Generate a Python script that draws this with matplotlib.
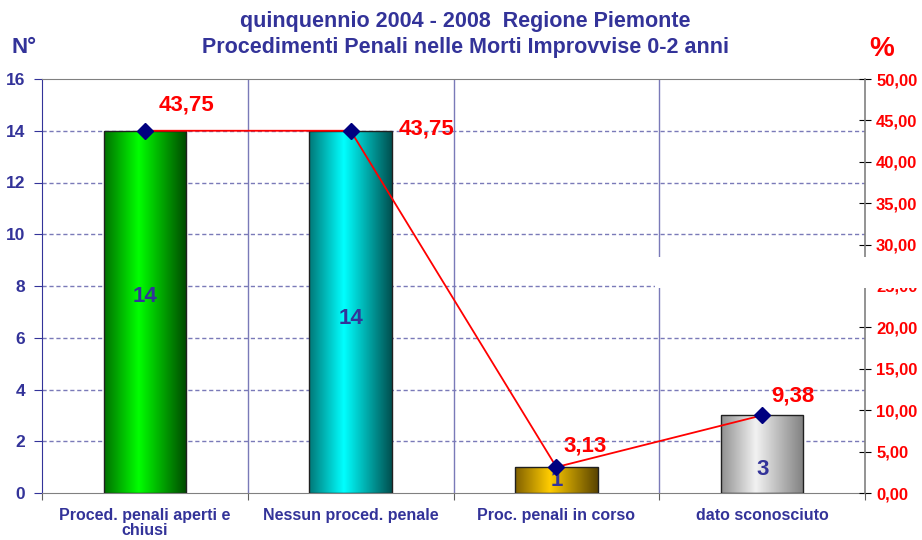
import matplotlib.pyplot as plt
import matplotlib.patches as mpatches
from matplotlib.colors import LinearSegmentedColormap
from matplotlib.ticker import FuncFormatter
import numpy as np

categories = ["Proced. penali aperti e\nchiusi", "Nessun proced. penale",
              "Proc. penali in corso", "dato sconosciuto"]
counts = [14, 14, 1, 3]
percents = [43.75, 43.75, 3.13, 9.38]

title = "quinquennio 2004 - 2008  Regione Piemonte\nProcedimenti Penali nelle Morti Improvvise 0-2 anni"

# gradient colours per bar: edge, highlight, far edge
bar_colors = [
    ("#007000", "#00ff00", "#004800"),
    ("#007878", "#00ffff", "#005050"),
    ("#806000", "#ffcc00", "#5a4400"),
    ("#909090", "#f2f2f2", "#808080"),
]

navy = "#333399"
red = "#ff0000"
grid_c = "#7a7ab8"

plt.rcParams["font.family"] = ["Liberation Sans", "DejaVu Sans"]
plt.rcParams["font.weight"] = "bold"

fig = plt.figure(figsize=(9.22, 5.4), dpi=100)
ax = fig.add_axes([42 / 922, 1 - 493 / 540, 823 / 922, 414 / 540])
x = np.arange(len(categories))

bars = ax.bar(x, counts, width=0.4, color="none", edgecolor="#202020", linewidth=1.0, zorder=3)

# gradient fill, clipped to each bar
for b, (c1, c2, c3) in zip(bars, bar_colors):
    cmap = LinearSegmentedColormap.from_list("g", [(0, c1), (0.42, c2), (1, c3)])
    grad = np.linspace(0, 1, 256).reshape(1, -1)
    im = ax.imshow(grad, cmap=cmap, aspect="auto", zorder=2,
                   extent=(b.get_x(), b.get_x() + b.get_width(), 0, b.get_height()))
    im.set_clip_path(b)

ax.set_xlim(-0.5, 3.5)
ax.set_ylim(0, 16)
ax.set_yticks(np.arange(0, 17, 2))
for yv in range(2, 16, 2):
    ax.axhline(yv, color=grid_c, linestyle=(0, (3, 2)), linewidth=1.0, zorder=1)
for xv in [0.5, 1.5, 2.5]:
    ax.axvline(xv, color=grid_c, linewidth=1.0, zorder=1)

ax.set_xticks([-0.5, 0.5, 1.5, 2.5, 3.5])
ax.set_xticklabels([])
ax.set_xticks(x, minor=True)
ax.set_xticklabels(categories, minor=True, fontsize=11.5, color=navy, linespacing=1.0)
ax.tick_params(axis="x", which="minor", length=0, pad=11)
ax.tick_params(axis="x", which="major", length=5, color="#606060")
ax.tick_params(axis="y", colors=navy, labelsize=12.5, length=6, pad=6)
for lab in ax.get_yticklabels():
    lab.set_fontweight("bold")

ax.spines["left"].set_color(navy)
ax.spines["bottom"].set_color("#808080")
ax.spines["top"].set_color("#808080")
ax.spines["right"].set_visible(False)

# count labels inside bars
label_off = [0.6, -0.25, 0.0, -0.6]
for xi, c, off in zip(x, counts, label_off):
    ax.text(xi, c / 2 + off, str(c), ha="center", va="center", color=navy,
            fontsize=16, fontweight="bold", zorder=5)

ax2 = ax.twinx()
ax2.set_ylim(0, 50)
ax2.set_yticks(np.arange(0, 51, 5))
ax2.yaxis.set_major_formatter(FuncFormatter(lambda v, p: f"{v:.2f}".replace(".", ",")))
ax2.tick_params(axis="y", colors="black", labelcolor=red, labelsize=12,
                direction="inout", length=8, pad=4)
for lab in ax2.get_yticklabels():
    lab.set_fontweight("bold")
for s in ["left", "top", "bottom"]:
    ax2.spines[s].set_visible(False)
ax2.spines["right"].set_color("#808080")
ax2.spines["right"].set_linewidth(1.2)

ax2.plot(x, percents, color=red, linewidth=1.3, marker="D", markersize=8,
         markerfacecolor="#000080", markeredgecolor="#000080", zorder=6)

pct_off = [(0.2, 3.1), (0.37, 0.2), (0.14, 2.5), (0.15, 2.3)]
for xi, p, (dx, dy) in zip(x, percents, pct_off):
    ax2.text(xi + dx, p + dy, f"{p:.2f}".replace(".", ","), ha="center", va="center",
             color=red, fontsize=16, fontweight="bold", zorder=7)

fig.text(0.505, 0.98, title, ha="center", va="top", color=navy, fontsize=15.5,
         fontweight="bold", linespacing=1.3)
fig.text(0.012, 0.912, "N°", ha="left", va="center", color=navy, fontsize=16, fontweight="bold")
fig.text(0.943, 0.91, "%", ha="left", va="center", color=red, fontsize=20, fontweight="bold")

# white patch covering part of the right axis, as in the original
fig.patches.append(mpatches.Rectangle((655 / 922, 1 - 288 / 540), 1, 31 / 540,
                                      transform=fig.transFigure, facecolor="white",
                                      edgecolor="none", zorder=10))

fig.savefig("out.png", dpi=100)
